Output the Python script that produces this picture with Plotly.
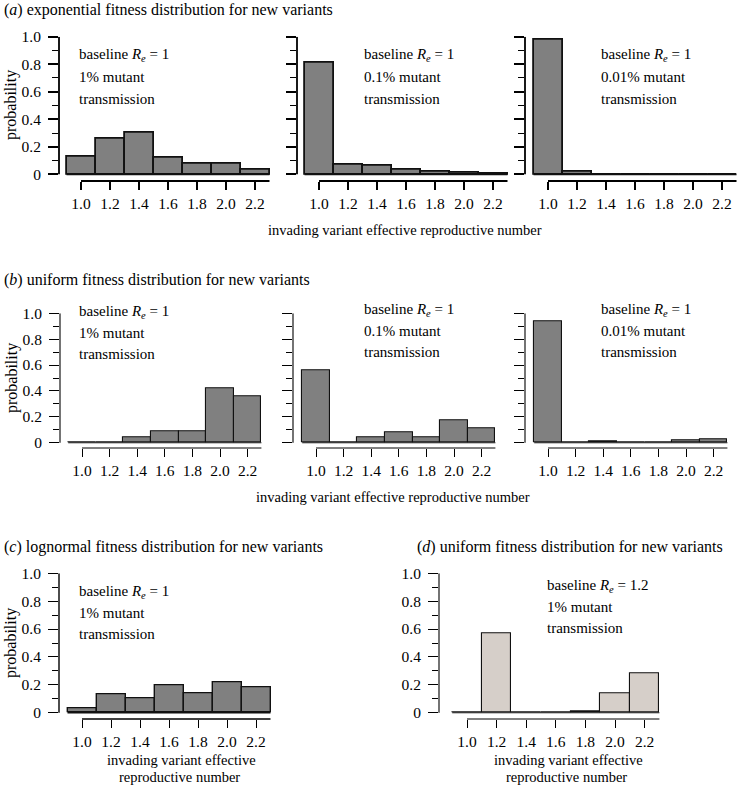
import plotly.graph_objects as go

# ---------------- data ----------------
bin_centers = [1.0, 1.2, 1.4, 1.6, 1.8, 2.0, 2.2]
x_tick_labels = ["1.0", "1.2", "1.4", "1.6", "1.8", "2.0", "2.2"]
y_tick_values = [0, 0.2, 0.4, 0.6, 0.8, 1.0]
y_tick_labels = ["0", "0.2", "0.4", "0.6", "0.8", "1.0"]

exp_1pct = [0.13, 0.26, 0.30, 0.12, 0.08, 0.08, 0.03]
exp_01pct = [0.81, 0.07, 0.06, 0.03, 0.02, 0.01, 0.003]
exp_001pct = [0.98, 0.02, 0.0, 0.0, 0.0, 0.0, 0.0]
unif_1pct = [0.006, 0.0, 0.04, 0.09, 0.09, 0.42, 0.36]
unif_01pct = [0.56, 0.0, 0.04, 0.08, 0.04, 0.17, 0.11]
unif_001pct = [0.94, 0.0, 0.01, 0.0, 0.0, 0.02, 0.03]
lognorm_1pct = [0.03, 0.13, 0.10, 0.20, 0.14, 0.22, 0.18]
unif_re12_1pct = [0.0, 0.57, 0.0, 0.0, 0.01, 0.14, 0.28]

panel_titles = [
    "(<i>a</i>) exponential fitness distribution for new variants",
    "(<i>b</i>) uniform fitness distribution for new variants",
    "(<i>c</i>) lognormal fitness distribution for new variants",
    "(<i>d</i>) uniform fitness distribution for new variants",
]
x_title = "invading variant effective reproductive number"
x_title_l1 = "invading variant effective"
x_title_l2 = "reproductive number"
y_title = "probability"

# ---------------- layout helpers ----------------
W, H = 745, 785
FONT = "Liberation Serif"
DARK = "#808080"
LIGHT = "#d6cfc9"


def fx(p):
    return p / W


def fy(p):
    return 1 - p / H


# panel geometry (pixels): y-axis line x, x of value 1.0, px per unit,
# y of value 1.0, y of value 0, y of x-axis line
panels = [
    dict(v=exp_1pct, c=DARK, lw=1.8, left=59, one=81, unit=145, top=36.7, zero=174.3, line=181, ylab=True),
    dict(v=exp_01pct, c=DARK, lw=1.8, left=297, one=319, unit=145, top=36.7, zero=174.3, line=181, ylab=False),
    dict(v=exp_001pct, c=DARK, lw=1.8, left=525, one=548, unit=145, top=36.7, zero=174.3, line=181, ylab=False),
    dict(v=unif_1pct, c=DARK, lw=1.1, left=60, one=82, unit=138, top=313.3, zero=442.7, line=448, ylab=True),
    dict(v=unif_01pct, c=DARK, lw=1.1, left=293, one=316, unit=138, top=313.3, zero=442.7, line=448, ylab=False),
    dict(v=unif_001pct, c=DARK, lw=1.1, left=525, one=548, unit=138, top=313.3, zero=442.7, line=448, ylab=False),
    dict(v=lognorm_1pct, c=DARK, lw=1.4, left=59, one=82, unit=145, top=573.3, zero=712.7, line=719, ylab=True),
    dict(v=unif_re12_1pct, c=LIGHT, lw=1.1, left=439, one=467, unit=148, top=573.3, zero=712.7, line=719, ylab=True),
]

fig = go.Figure()
layout = dict(
    width=W, height=H,
    margin=dict(l=0, r=0, t=0, b=0, autoexpand=False),
    paper_bgcolor="white", plot_bgcolor="white",
    showlegend=False,
    font=dict(family=FONT, size=15, color="black"),
    bargap=0,
)
shapes = []
annotations = []

x_right = 2.33
for i, p in enumerate(panels):
    n = "" if i == 0 else str(i + 1)
    xa, ya = "x" + n, "y" + n
    x0 = 1.0 - (p["one"] - p["left"]) / p["unit"]
    right_px = p["one"] + (x_right - 1.0) * p["unit"]
    y0 = -(p["line"] - p["zero"]) / (p["zero"] - p["top"])

    fig.add_trace(go.Bar(
        x=bin_centers, y=p["v"], width=0.2,
        marker=dict(color=p["c"], line=dict(color="#111111", width=p["lw"])),
        xaxis=xa, yaxis=ya, hoverinfo="x+y",
    ))
    # baseline formed by bin bottoms (zero-height bins show as a line)
    fig.add_trace(go.Scatter(
        x=[bin_centers[0] - 0.1, bin_centers[-1] + 0.1], y=[0, 0],
        mode="lines", line=dict(color="#111111", width=p["lw"]),
        xaxis=xa, yaxis=ya, hoverinfo="skip",
    ))

    layout["xaxis" + n] = dict(
        domain=[fx(p["left"]), fx(right_px)], range=[x0, x_right],
        anchor=ya, showgrid=False, zeroline=False, showline=False, automargin=False,
        tickmode="array", tickvals=bin_centers, ticktext=x_tick_labels,
        ticks="outside", ticklen=8, tickwidth=p["lw"], tickcolor="black",
        ticklabelstandoff=0,
        tickfont=dict(family=FONT, size=15.5, color="black"),
    )
    layout["yaxis" + n] = dict(
        domain=[fy(p["line"]), fy(p["top"])], range=[y0, 1.0],
        anchor=xa, showgrid=False, zeroline=False, showline=False, automargin=False,
        tickmode="array", tickvals=y_tick_values, ticktext=y_tick_labels,
        ticks="outside", ticklen=10, tickwidth=p["lw"], tickcolor="black",
        showticklabels=p["ylab"], ticklabelstandoff=4,
        tickfont=dict(family=FONT, size=15.5, color="black"),
        minor=dict(tickmode="linear", tick0=0, dtick=0.1, ticks="outside",
                   ticklen=6, tickwidth=p["lw"] * 0.8, tickcolor="black", showgrid=False),
    )
    # y axis line from 0 to 1
    shapes.append(dict(type="line", xref=xa + " domain", yref=ya,
                       x0=0, x1=0, y0=0, y1=1.0,
                       line=dict(color="black", width=p["lw"])))
    # x axis line from first tick to last bin edge
    shapes.append(dict(type="line", xref=xa, yref=ya + " domain",
                       x0=bin_centers[0], x1=bin_centers[-1] + 0.1, y0=0, y1=0,
                       line=dict(color="black", width=p["lw"])))


def text(x, y, s, anchor="left", angle=0, size=15):
    annotations.append(dict(x=fx(x), y=fy(y), xref="paper", yref="paper",
                            text=s, showarrow=False, xanchor=anchor, yanchor="middle",
                            textangle=angle, borderpad=0,
                            font=dict(family=FONT, size=size, color="black")))


# panel titles
text(3, 10, panel_titles[0], size=16)
text(3, 280, panel_titles[1], size=16)
text(3, 547, panel_titles[2], size=16)
text(416, 547, panel_titles[3], size=16)

# y titles
text(11, 105, y_title, anchor="center", angle=-90, size=16)
text(12, 378, y_title, anchor="center", angle=-90, size=16)
text(11, 643, y_title, anchor="center", angle=-90, size=16)

# x titles
text(267, 230, x_title, size=14.5)
text(255, 497, x_title, size=14.5)
text(181, 760, x_title_l1, anchor="center", size=14.5)
text(179, 777, x_title_l2, anchor="center", size=14.5)
text(568, 760, x_title_l1, anchor="center", size=14.5)
text(566, 777, x_title_l2, anchor="center", size=14.5)

# inset labels
base1 = "baseline <i>R</i><sub><i>e</i></sub> = 1"
base12 = "baseline <i>R</i><sub><i>e</i></sub> = 1.2"
insets = [
    (78, [55, 77, 99], base1, "1% mutant"),
    (363, [55, 77, 99], base1, "0.1% mutant"),
    (600, [55, 77, 99], base1, "0.01% mutant"),
    (78, [312, 333, 354], base1, "1% mutant"),
    (363, [310, 331, 352], base1, "0.1% mutant"),
    (600, [310, 331, 352], base1, "0.01% mutant"),
    (78, [592, 613, 634], base1, "1% mutant"),
    (546, [586, 607, 628], base12, "1% mutant"),
]
for x, ys, l1, l2 in insets:
    text(x, ys[0], l1)
    text(x, ys[1], l2)
    text(x, ys[2], "transmission")

layout["shapes"] = shapes
layout["annotations"] = annotations
fig.update_layout(**layout)
# pin the figure to the window's top-left corner (no page margin / scrolling)
fig.write_html(
    "out.html",
    config={"displayModeBar": False},
    post_script=(
        "var d=document.getElementById('{plot_id}');"
        "d.style.position='fixed';d.style.left='0px';d.style.top='0px';"
        "document.body.style.margin='0';"
        "document.documentElement.style.overflow='hidden';"
    ),
)
